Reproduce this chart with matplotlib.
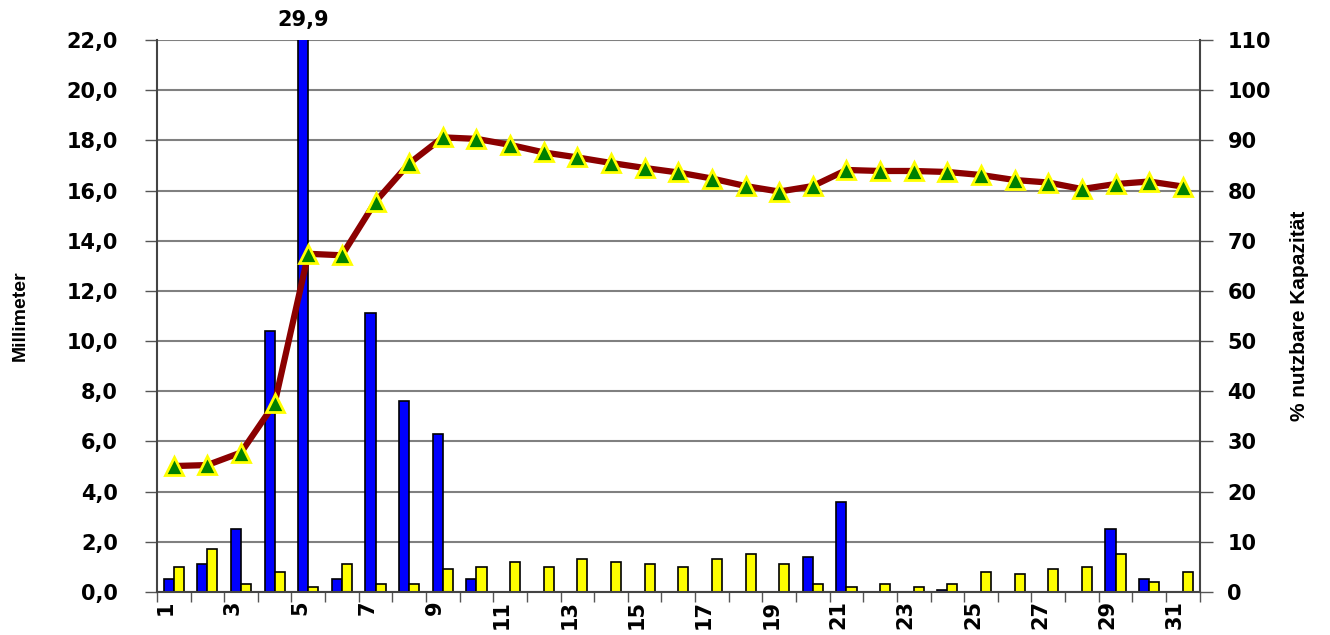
import matplotlib
matplotlib.use('Agg')
import matplotlib.pyplot as plt
import matplotlib.transforms as mtransforms
import numpy as np

# Tageswerte (1..31)
tage = list(range(1, 32))
niederschlag_mm = [0.5, 1.1, 2.5, 10.4, 29.9, 0.5, 11.1, 7.6, 6.3, 0.5,
                   0.0, 0.0, 0.0, 0.0, 0.0, 0.0, 0.0, 0.0, 0.0, 1.4,
                   3.6, 0.0, 0.0, 0.1, 0.0, 0.0, 0.0, 0.0, 2.5, 0.5, 0.0]
verdunstung_mm = [1.0, 1.7, 0.3, 0.8, 0.2, 1.1, 0.3, 0.3, 0.9, 1.0,
                  1.2, 1.0, 1.3, 1.2, 1.1, 1.0, 1.3, 1.5, 1.1, 0.3,
                  0.2, 0.3, 0.2, 0.3, 0.8, 0.7, 0.9, 1.0, 1.5, 0.4, 0.8]
kapazitaet_pct = [25.1, 25.3, 27.8, 37.6, 67.4, 67.1, 77.8, 85.4, 90.6, 90.3,
                  89.1, 87.6, 86.6, 85.5, 84.5, 83.6, 82.4, 80.9, 79.8, 80.9,
                  84.1, 83.9, 83.9, 83.7, 83.1, 82.1, 81.6, 80.3, 81.3, 81.8, 80.8]
mm_ticks = np.arange(0, 22.1, 2.0)
pct_ticks = np.arange(0, 111, 10)

FONT = ['DejaVu Sans']
LABEL_FONT = ['Liberation Sans Narrow', 'Liberation Sans', 'DejaVu Sans']

fig = plt.figure(figsize=(13.3, 6.35), dpi=100)
ax = fig.add_axes([0.118, 0.0677, 0.784, 0.8693])
x = np.array(tage)
w = 0.3

ax.set_axisbelow(True)
ax.bar(x - w / 2, niederschlag_mm, width=w, color='#0000FF', edgecolor='black', linewidth=1.2, zorder=2)
ax.bar(x + w / 2, verdunstung_mm, width=w, color='#FFFF00', edgecolor='black', linewidth=1.2, zorder=2)

ax.set_xlim(0.5, 31.5)
ax.set_ylim(0, 22)
ax.set_yticks(mm_ticks)
ax.set_yticklabels([f"{v:.1f}".replace('.', ',') for v in mm_ticks],
                   fontsize=15, fontweight='bold', family=FONT)
ax.yaxis.grid(True, color='#808080', linewidth=1.5)
ax.tick_params(axis='y', length=9, width=1, color='#555555', pad=19)

# Kategorie-Grenzen als Striche, Beschriftung jeden zweiten Tag
ax.set_xticks(np.arange(0.5, 32, 1.0), minor=True)
ax.set_xticks(x[::2])
ax.set_xticklabels([str(t) for t in tage[::2]], rotation=90, fontsize=15,
                   fontweight='bold', family=FONT)
ax.tick_params(axis='x', which='major', length=0, pad=6)
ax.tick_params(axis='x', which='minor', length=7, width=1, color='#555555')
offset = mtransforms.ScaledTranslation(-8 / 100, 0, fig.dpi_scale_trans)
for lbl in ax.get_xticklabels():
    lbl.set_transform(lbl.get_transform() + offset)

for side in ['top', 'right']:
    ax.spines[side].set_visible(False)
ax.spines['left'].set_color('#444444')
ax.spines['left'].set_linewidth(1.5)
ax.spines['bottom'].set_color('#444444')
ax.spines['bottom'].set_linewidth(1.5)

ax.set_ylabel('Millimeter', fontsize=14, fontweight='bold', family=LABEL_FONT, labelpad=27)

# Wert des abgeschnittenen Balkens
i_max = int(np.argmax(niederschlag_mm))
ax.annotate(f"{niederschlag_mm[i_max]:.1f}".replace('.', ','),
            xy=(x[i_max] - w / 2, 22), xytext=(0, 7), textcoords='offset points',
            ha='center', va='bottom', fontsize=15, fontweight='bold', family=FONT,
            annotation_clip=False)

ax2 = ax.twinx()
ax2.plot(x, kapazitaet_pct, color='#8B0000', linewidth=4.5, marker='^', markersize=13,
         markerfacecolor='#008000', markeredgecolor='#FFFF00', markeredgewidth=2, zorder=3)
ax2.set_ylim(0, 110)
ax2.set_yticks(pct_ticks)
ax2.set_yticklabels([str(v) for v in pct_ticks], fontsize=15, fontweight='bold', family=FONT)
ax2.tick_params(axis='y', length=9, width=1, color='#555555', pad=11)
for side in ['top', 'left', 'bottom']:
    ax2.spines[side].set_visible(False)
ax2.spines['right'].set_color('#444444')
ax2.spines['right'].set_linewidth(1.5)
ax2.set_ylabel('% nutzbare Kapazität', fontsize=15, fontweight='bold', family=LABEL_FONT, labelpad=14)

fig.savefig('out.png', dpi=100)
